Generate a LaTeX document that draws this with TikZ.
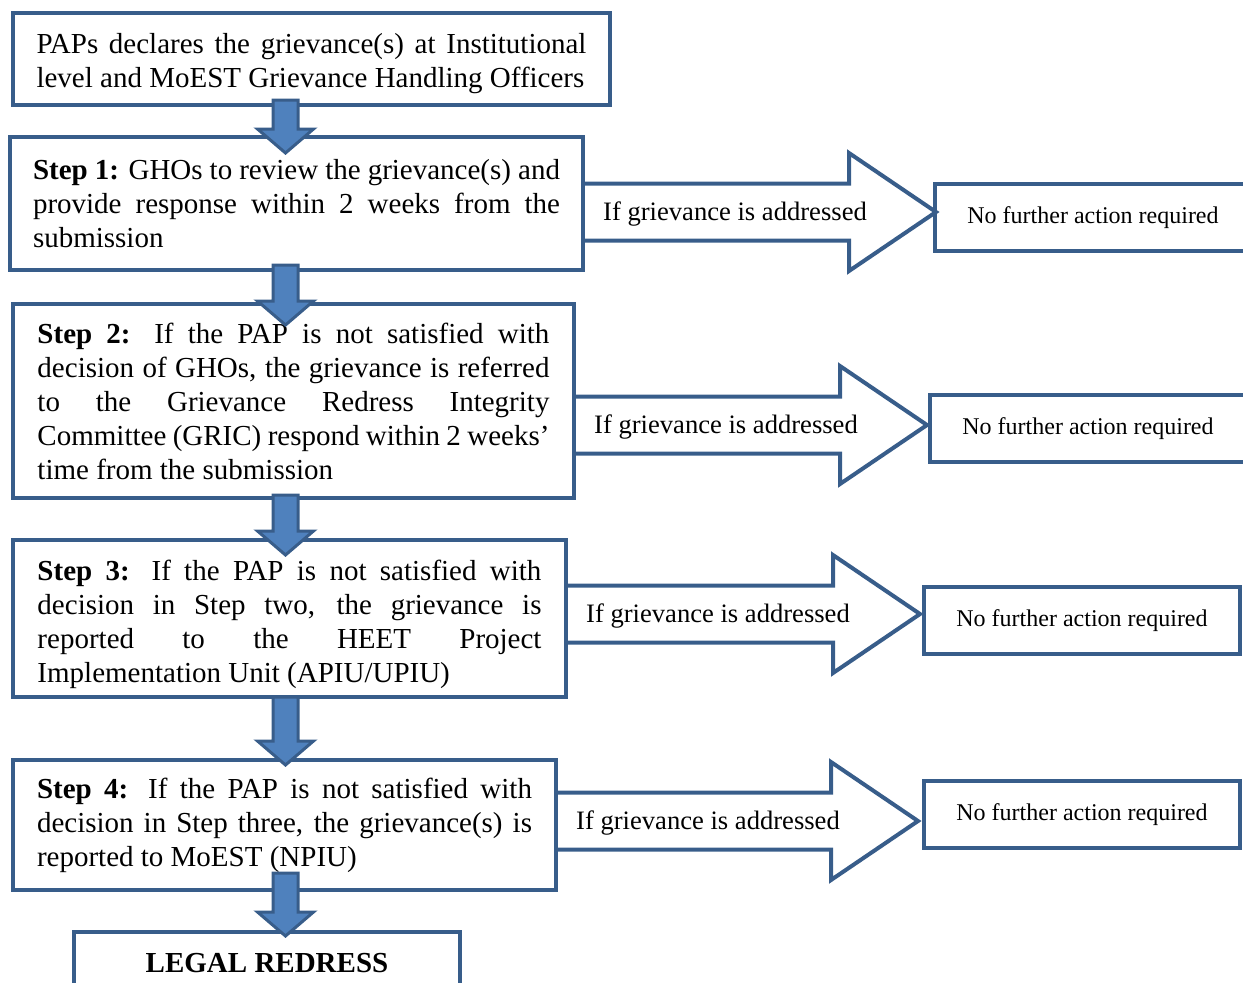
\documentclass[tikz,border=0pt]{standalone}
\usepackage{fontspec}
\setmainfont{Liberation Serif}
\usetikzlibrary{calc}
\setlength{\parindent}{0pt}
\definecolor{boxblue}{RGB}{56,93,138}
\definecolor{arrowblue}{RGB}{79,129,189}
\tikzset{
  stepbox/.style={draw=boxblue, line width=2pt, align=justify, inner sep=0pt, outer sep=0pt,
    font=\fontsize{14.5}{17}\selectfont},
  endbox/.style={draw=boxblue, line width=2pt, outer sep=0pt, minimum width=158pt,
    minimum height=33.5pt, font=\fontsize{12}{14}\selectfont},
  iftext/.style={inner sep=0pt, font=\fontsize{13.3}{16}\selectfont},
  ifline/.style={draw=boxblue, line width=2pt},
  downline/.style={draw=boxblue, fill=arrowblue, line width=1.5pt},
}
% fat arrow down the left column
\newcommand{\steparrow}[4]{%
  \coordinate (top) at ($(spine |- #1.south)+(0,#3)$);
  \coordinate (tip) at ($(spine |- #2.north)+(0,#4)$);
  \draw[downline] ($(top)+(-12.5,0)$) -- ($(tip)+(-12.5,-24)$) -- ($(tip)+(-28,-24)$) -- (tip)
    -- ($(tip)+(28,-24)$) -- ($(tip)+(12.5,-24)$) -- ($(top)+(12.5,0)$) -- cycle;
}
% open arrow to the right
\newcommand{\ifarrow}[3]{%
  \draw[ifline] ($(#1.east |- #2)+(0,-28.5)$) -- ($(#2)+(-87,-28.5)$) -- ($(#2)+(-87,-59)$) -- (#2)
    -- ($(#2)+(-87,59)$) -- ($(#2)+(-87,28.5)$) -- ($(#1.east |- #2)+(0,28.5)$);
  \node[iftext] (#3) at ($(#1.east |- #2)+(152,2)$) {If grievance is addressed};
}

\begin{document}
\begin{tikzpicture}[x=0.5pt, y=-0.5pt]
\useasboundingbox (0,0) rectangle (1243,982);
\coordinate (spine) at (285.5,0);

\node[stepbox, minimum width=298.5pt, minimum height=46pt, text width=275pt] (s0) at (311.5,59)
  {\rule{0pt}{15pt}PAPs declares the grievance(s) at Institutional\linebreak level and MoEST Grievance Handling Officers};
\node[stepbox, minimum width=286.5pt, minimum height=66.5pt, text width=263.5pt] (s1) at (296.5,203.5)
  {\textbf{Step 1:} GHOs to review the grievance(s) and\linebreak provide response within 2 weeks from the\linebreak submission};
\node[stepbox, minimum width=280.5pt, minimum height=97pt, text width=256pt] (s2) at (293.5,401)
  {\textbf{Step 2:} If the PAP is not satisfied with\linebreak decision of GHOs, the grievance is referred\linebreak to the Grievance Redress Integrity\linebreak Committee (GRIC) respond within 2 weeks’\linebreak time from the submission};
\node[stepbox, minimum width=276.5pt, minimum height=78.5pt, text width=252pt] (s3) at (289.5,618.5)
  {\rule{0pt}{16pt}\textbf{Step 3:} If the PAP is not satisfied with\linebreak decision in Step two, the grievance is\linebreak reported to the HEET Project\linebreak Implementation Unit (APIU/UPIU)};
\node[stepbox, minimum width=271.5pt, minimum height=65pt, text width=247.5pt] (s4) at (284.5,825)
  {\textbf{Step 4:} If the PAP is not satisfied with\linebreak decision in Step three, the grievance(s) is\linebreak reported to MoEST (NPIU)};
\node[stepbox, align=center, minimum width=193pt, minimum height=31pt] (legal) at (267,963)
  {\textbf{LEGAL REDRESS}};

\node[endbox] (r1) at (1093,217.5) {No further action required};
\node[endbox] (r2) at (1088,428.5) {No further action required};
\node[endbox] (r3) at (1082,620.5) {No further action required};
\node[endbox] (r4) at (1082,814.5) {No further action required};

\coordinate (t1) at (936,212);
\coordinate (t2) at (927,425);
\coordinate (t3) at (920,614);
\coordinate (t4) at (918,821);
\ifarrow{s1}{t1}{if1}
\ifarrow{s2}{t2}{if2}
\ifarrow{s3}{t3}{if3}
\ifarrow{s4}{t4}{if4}

\steparrow{s0}{s1}{-5}{16}
\steparrow{s1}{s2}{-5}{21}
\steparrow{s2}{s3}{-3}{15}
\steparrow{s3}{s4}{0}{5}
\steparrow{s4}{legal}{-17}{4}
\end{tikzpicture}
\end{document}
